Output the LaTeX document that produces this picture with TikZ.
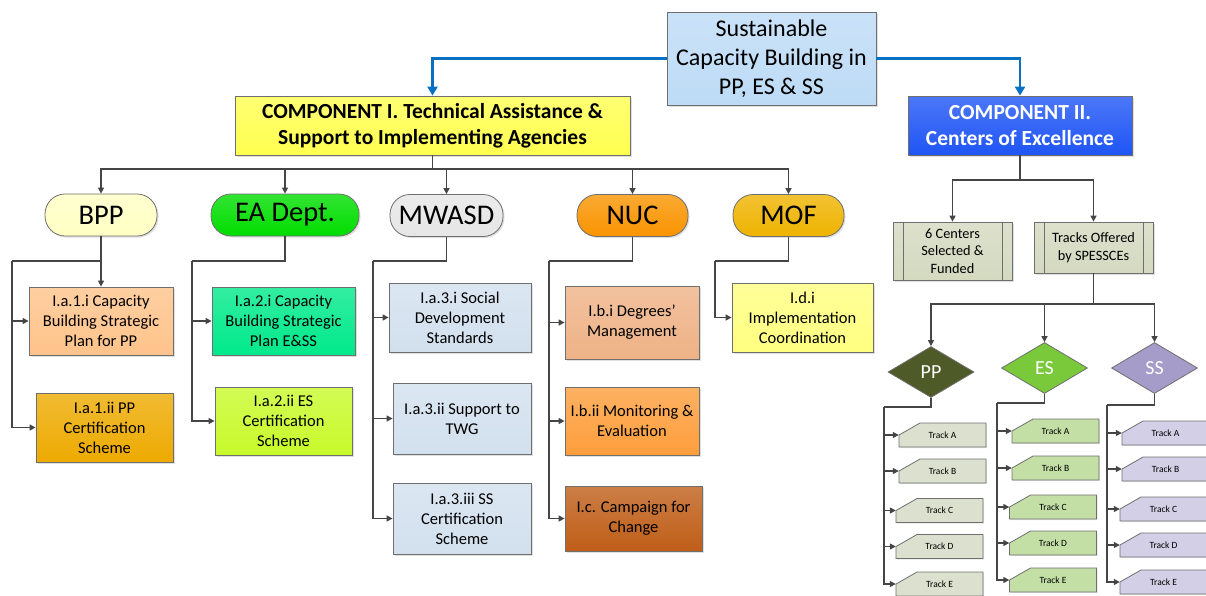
\documentclass[tikz,border=0pt]{standalone}
\usepackage{fontspec}
\setmainfont{Carlito}
\usetikzlibrary{arrows.meta,shapes.geometric,shadows}
\definecolor{bord}{HTML}{6F6F6F}
\definecolor{lnk}{HTML}{454545}
\definecolor{blu}{HTML}{0A70C2}
\definecolor{cTop}{HTML}{BDDBF6}
\definecolor{cOne}{HTML}{FFFF50}
\definecolor{cTwo}{HTML}{1F55F5}
\definecolor{cBpp}{HTML}{FFFFC4}
\definecolor{cEa}{HTML}{00DD00}
\definecolor{cMw}{HTML}{E6E6E6}
\definecolor{cNuc}{HTML}{F99400}
\definecolor{cMof}{HTML}{EEB300}
\definecolor{cAi}{HTML}{FFC38A}
\definecolor{cAii}{HTML}{EDAA00}
\definecolor{cBi}{HTML}{00E98A}
\definecolor{cBii}{HTML}{C8FA2A}
\definecolor{cSoc}{HTML}{D2E0EE}
\definecolor{cDeg}{HTML}{EEB286}
\definecolor{cMon}{HTML}{FD9E3C}
\definecolor{cCam}{HTML}{BF5E18}
\definecolor{cImp}{HTML}{FFFF80}
\definecolor{cCen}{HTML}{D4D9C0}
\definecolor{cPP}{HTML}{4E5A27}
\definecolor{cES}{HTML}{79C93A}
\definecolor{cSS}{HTML}{A59CC9}
\definecolor{tPP}{HTML}{DCE0CE}
\definecolor{tES}{HTML}{C3DFA6}
\definecolor{tSS}{HTML}{D3CFE6}
\begin{document}
\begin{tikzpicture}[x=1pt,y=-1pt,
	box/.style={draw=bord,line width=.8pt,inner sep=1pt,align=center,
		top color=#1!80!white,bottom color=#1,
		drop shadow={shadow xshift=1.5pt,shadow yshift=-1.5pt,opacity=.25}},
	txt/.style={box=#1,font=\fontsize{16.5}{20}\selectfont},
	pill/.style={box=#1,rounded corners=20pt,minimum height=42pt,font=\fontsize{28.5}{30}\selectfont},
	proc/.style={box=cCen,font=\fontsize{14.3}{17.5}\selectfont,minimum width=119pt,
		path picture={\draw[bord,line width=.8pt]
			([xshift=10pt]path picture bounding box.north west) -- ([xshift=10pt]path picture bounding box.south west)
			([xshift=-10pt]path picture bounding box.north east) -- ([xshift=-10pt]path picture bounding box.south east);}},
	dia/.style={diamond,draw=bord,line width=.8pt,fill=#1,text=white,inner sep=0pt,
		minimum width=86pt,minimum height=51pt,font=\fontsize{20}{22}\selectfont},
	tcard/.style={draw=bord,line width=.8pt,fill=#1,
		drop shadow={shadow xshift=1.2pt,shadow yshift=-1.2pt,opacity=.2}},
	trk/.style={minimum width=87pt,minimum height=24pt,inner sep=0pt,font=\fontsize{9.5}{10}\selectfont},
	ln/.style={draw=lnk,line width=1.4pt},
	arr/.style={ln,-{Triangle[length=6pt,width=6pt]}},
	barr/.style={draw=blu,line width=2.8pt,-{Triangle[length=9pt,width=10pt]}}]
\useasboundingbox (0,0) rectangle (1206,595);
% top
\node[box=cTop,minimum width=209pt,minimum height=93pt,font=\fontsize{24}{29}\selectfont] (goal) at (771.5,58.5) {Sustainable\\Capacity Building in\\PP, ES \& SS};
\node[box=cOne,minimum width=395pt,minimum height=59pt,font=\bfseries\fontsize{21.5}{26}\selectfont] (compI) at (432.5,125.5) {COMPONENT I. Technical Assistance \&\\Support to Implementing Agencies};
\node[box=cTwo,text=white,minimum width=224pt,minimum height=59pt,font=\bfseries\fontsize{21.5}{26}\selectfont] (compII) at (1020,125.5) {COMPONENT II.\\Centers of Excellence};
\draw[barr] (goal.west) -| (compI.north);
\draw[barr] (goal.east) -| (compII.north);
% agencies
\node[pill=cBpp,minimum width=112pt] (bpp) at (101,215) {BPP};
\node[pill=cEa,minimum width=148pt] (ea) at (285,215) {EA Dept.};
\node[pill=cMw,minimum width=113pt] (mw) at (446.5,215.5) {MWASD};
\node[pill=cNuc,minimum width=111pt] (nuc) at (632.5,215.5) {NUC};
\node[pill=cMof,minimum width=111pt] (mof) at (788.5,215.5) {MOF};
\coordinate (busI) at (432.5,169);
\draw[ln] (compI.south) -- (busI);
\foreach \n in {bpp,ea,mw,nuc,mof} \draw[arr] (busI) -| (\n.north);
% activities
\node[txt=cAi,minimum width=144pt,minimum height=68pt] (a1i) at (101,321) {I.a.1.i Capacity\\Building Strategic\\Plan for PP};
\node[txt=cAii,minimum width=137pt,minimum height=69pt] (a1ii) at (104.5,427.5) {I.a.1.ii PP\\Certification\\Scheme};
\node[txt=cBi,minimum width=143pt,minimum height=68pt] (a2i) at (283.5,321) {I.a.2.i Capacity\\Building Strategic\\Plan E\&SS};
\node[txt=cBii,minimum width=137pt,minimum height=68pt] (a2ii) at (283.5,421) {I.a.2.ii ES\\Certification\\Scheme};
\node[txt=cSoc,minimum width=142pt,minimum height=69pt] (a3i) at (460,317.5) {I.a.3.i Social\\Development\\Standards};
\node[txt=cSoc,minimum width=138pt,minimum height=71pt] (a3ii) at (462,418.5) {I.a.3.ii Support to\\TWG};
\node[txt=cSoc,minimum width=138pt,minimum height=71pt] (a3iii) at (462,518.5) {I.a.3.iii SS\\Certification\\Scheme};
\node[txt=cDeg,minimum width=134pt,minimum height=73pt] (b1) at (632,322.5) {I.b.i Degrees’\\Management};
\node[txt=cMon,minimum width=134pt,minimum height=68pt] (b2) at (632,421) {I.b.ii Monitoring \&\\Evaluation};
\node[txt=cCam,minimum width=137pt,minimum height=65pt] (c1) at (633.5,518.5) {I.c. Campaign for\\Change};
\node[txt=cImp,minimum width=141pt,minimum height=69pt] (d1) at (802.5,317.5) {I.d.i\\Implementation\\Coordination};
\coordinate (bppR) at (12,261);
\coordinate (eaR) at (192,261);
\coordinate (mwR) at (373,261);
\coordinate (nucR) at (549,261);
\coordinate (mofR) at (715,261);
\draw[ln] (bpp.south) |- (bppR);
\draw[arr] (bpp.south) -- (a1i.north);
\foreach \n in {a1i,a1ii} \draw[arr] (bppR) |- (\n.west);
\draw[ln] (ea.south) |- (eaR);
\foreach \n in {a2i,a2ii} \draw[arr] (eaR) |- (\n.west);
\draw[ln] (mw.south) |- (mwR);
\foreach \n in {a3i,a3ii,a3iii} \draw[arr] (mwR) |- (\n.west);
\draw[ln] (nuc.south) |- (nucR);
\foreach \n in {b1,b2,c1} \draw[arr] (nucR) |- (\n.west);
\draw[ln] (mof.south) |- (mofR);
\draw[arr] (mofR) |- (d1.west);
% centers of excellence
\node[proc,minimum height=58pt] (centers) at (952.5,251) {6 Centers\\Selected \&\\Funded};
\node[proc,minimum height=51pt] (offer) at (1093.5,247.5) {Tracks Offered\\by SPESSCEs};
\coordinate (busII) at (1020,180);
\draw[ln] (compII.south) -- (busII);
\foreach \n in {centers,offer} \draw[arr] (busII) -| (\n.north);
\node[dia=cPP] (pp) at (931,372) {PP};
\node[dia=cES] (es) at (1044.5,368) {ES};
\node[dia=cSS] (ss) at (1154.5,368) {SS};
\coordinate (busT) at (1093.5,304);
\draw[ln] (offer.south) -- (busT);
\foreach \n in {pp,es,ss} \draw[arr] (busT) -| (\n.north);
% tracks
\coordinate (ppR) at (884,407);
\coordinate (esR) at (997,403);
\coordinate (ssR) at (1107,405);
\draw[ln] (pp.south) |- (ppR);
\draw[ln] (es.south) |- (esR);
\draw[ln] (ss.south) |- (ssR);
\foreach \t/\x/\y in {A/942.5/435,B/942.5/471,C/939.5/510.5,D/939.5/546.5,E/939.5/584}{
	\filldraw[tcard=tPP] (\x-43.5,\y+12) -- (\x-43.5,\y) -- (\x-22.5,\y-12) -- (\x+43.5,\y-12) -- (\x+43.5,\y+12) -- cycle;
	\node[trk] (pp\t) at (\x,\y) {Track \t};
	\draw[arr] (ppR) |- (pp\t.west);}
\foreach \t/\x/\y in {A/1055.5/431,B/1055.5/468,C/1053/507,D/1053/543,E/1053/580}{
	\filldraw[tcard=tES] (\x-43.5,\y+12) -- (\x-43.5,\y) -- (\x-22.5,\y-12) -- (\x+43.5,\y-12) -- (\x+43.5,\y+12) -- cycle;
	\node[trk] (es\t) at (\x,\y) {Track \t};
	\draw[arr] (esR) |- (es\t.west);}
\foreach \t/\x/\y in {A/1165.5/433,B/1165.5/469,C/1163.5/509,D/1163.5/545,E/1163.5/582}{
	\filldraw[tcard=tSS] (\x-43.5,\y+12) -- (\x-43.5,\y) -- (\x-22.5,\y-12) -- (\x+43.5,\y-12) -- (\x+43.5,\y+12) -- cycle;
	\node[trk] (ss\t) at (\x,\y) {Track \t};
	\draw[arr] (ssR) |- (ss\t.west);}
\end{tikzpicture}
\end{document}
